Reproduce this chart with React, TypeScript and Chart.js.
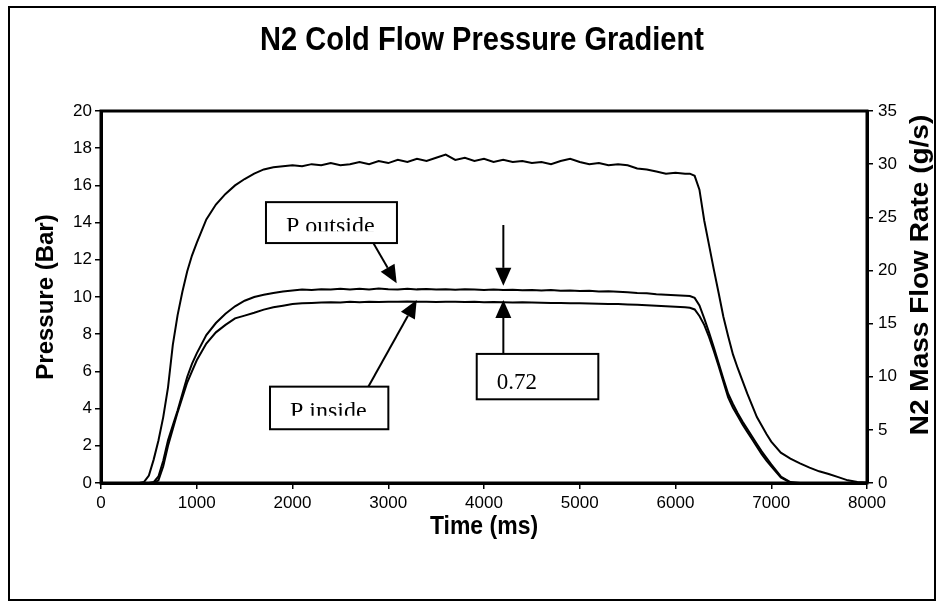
import React, { useEffect, useRef } from 'react';
import { Chart, registerables } from 'chart.js';

Chart.register(...registerables);

// ---- data ----
const TIME_MS = [0,100,200,300,400,450,500,550,600,650,700,750,800,850,900,950,1000,
  1100,1200,1300,1400,1500,1600,1700,1800,1900,2000,
  2100,2200,2300,2400,2500,2600,2700,2800,2900,3000,
  3100,3200,3300,3400,3500,3600,3700,3800,3900,4000,
  4100,4200,4300,4400,4500,4600,4700,4800,4900,5000,
  5100,5200,5300,5400,5500,5600,5700,5800,5900,6000,6100,
  6150,6200,6250,6300,6350,6400,6450,6500,6550,6600,6650,6700,6750,6800,6850,6900,6950,7000,
  7100,7200,7300,7400,7500,7600,7700,7800,7900,8000];

const FLOW_GS = [0,0,0,0,0,0.1,0.7,2.2,4.0,6.2,9.0,13.0,15.8,18.0,19.9,21.4,22.6,
  24.8,26.2,27.2,28.0,28.6,29.1,29.5,29.7,29.8,29.9,
  29.8,30.0,29.9,30.1,29.9,30.0,30.2,30.0,30.3,30.1,
  30.4,30.2,30.5,30.3,30.6,30.9,30.4,30.6,30.3,30.5,
  30.2,30.4,30.2,30.3,30.1,30.2,30.0,30.3,30.5,30.2,
  30.0,30.1,29.9,30.0,29.9,29.6,29.5,29.3,29.1,29.2,29.1,
  29.1,28.9,27.6,24.7,22.4,20.1,17.9,15.65,13.8,12.1,10.8,9.6,8.4,7.3,6.2,5.4,4.6,3.9,
  2.85,2.3,1.85,1.45,1.1,0.85,0.55,0.25,0.1,0.05];

const P_OUTSIDE_BAR = [0,0,0,0,0,0,0,0.05,0.35,1.2,2.3,3.1,3.9,4.8,5.7,6.4,6.97,
  7.95,8.6,9.1,9.5,9.8,10.0,10.12,10.22,10.3,10.35,
  10.4,10.38,10.42,10.4,10.45,10.41,10.44,10.4,10.46,10.42,
  10.4,10.44,10.41,10.43,10.4,10.42,10.39,10.41,10.4,10.38,
  10.4,10.37,10.39,10.36,10.38,10.35,10.37,10.34,10.35,10.32,
  10.33,10.3,10.31,10.28,10.26,10.22,10.2,10.15,10.12,10.1,10.07,
  10.05,9.95,9.55,8.85,8.1,7.3,6.45,5.6,4.8,4.25,3.75,3.3,2.9,2.5,2.1,1.7,1.35,1.0,
  0.35,0.05,0,0,0,0,0,0,0,0];

const P_INSIDE_BAR = [0,0,0,0,0,0,0,0,0.15,0.9,2.0,2.9,3.8,4.6,5.4,6.0,6.6,
  7.5,8.1,8.5,8.85,9.0,9.15,9.32,9.45,9.53,9.62,
  9.66,9.68,9.7,9.72,9.71,9.74,9.72,9.75,9.73,9.75,
  9.74,9.76,9.74,9.75,9.73,9.75,9.74,9.73,9.74,9.72,
  9.73,9.72,9.71,9.72,9.7,9.69,9.68,9.68,9.66,9.67,
  9.65,9.64,9.63,9.62,9.6,9.58,9.56,9.53,9.5,9.48,9.45,
  9.42,9.33,8.98,8.5,7.85,7.1,6.3,5.45,4.6,4.05,3.6,3.15,2.75,2.35,1.95,1.55,1.2,0.9,
  0.3,0.02,0,0,0,0,0,0,0,0];

const TITLE = 'N2 Cold Flow Pressure Gradient';
const X_TITLE = 'Time (ms)';
const Y_TITLE = 'Pressure (Bar)';
const Y2_TITLE = 'N2 Mass Flow Rate (g/s)';

// annotation callouts, in data units (ms, bar)
const LABEL_BOXES = [
  { text: 'P outside', t0: 1723, t1: 3091, p0: 15.1, p1: 12.9, clip: true },
  { text: 'P inside', t0: 1765, t1: 3001, p0: 5.18, p1: 2.89, clip: true },
  { text: '0.72', t0: 3924, t1: 5194, p0: 6.94, p1: 4.5, clip: false },
];
const ARROWS = [
  { t0: 2844, p0: 12.9, t1: 3088, p1: 10.74 },
  { t0: 2792, p0: 5.18, t1: 3297, p1: 9.84 },
  { t0: 4202, p0: 13.87, t1: 4202, p1: 10.6 },
  { t0: 4202, p0: 6.94, t1: 4202, p1: 9.84 },
];

const SANS = '"Liberation Sans", Arial, sans-serif';
const SERIF = '"Liberation Serif", "Times New Roman", serif';

function drawText(ctx: CanvasRenderingContext2D, text: string, cx: number, cy: number, font: string, sx: number, rot: number) {
  ctx.save();
  ctx.translate(cx, cy);
  ctx.scale(sx, 1);
  if (rot) ctx.rotate(rot);
  ctx.font = font;
  ctx.fillStyle = '#000';
  ctx.textAlign = 'center';
  ctx.textBaseline = 'middle';
  ctx.fillText(text, 0, 0);
  ctx.restore();
}

function arrow(ctx: CanvasRenderingContext2D, x0: number, y0: number, x1: number, y1: number) {
  const ang = Math.atan2(y1 - y0, x1 - x0);
  const L = 18, W = 8;
  const bx = x1 - L * Math.cos(ang), by = y1 - L * Math.sin(ang);
  ctx.beginPath();
  ctx.moveTo(x0, y0);
  ctx.lineTo(bx, by);
  ctx.lineWidth = 2;
  ctx.stroke();
  ctx.beginPath();
  ctx.moveTo(x1, y1);
  ctx.lineTo(bx + W * Math.sin(ang), by - W * Math.cos(ang));
  ctx.lineTo(bx - W * Math.sin(ang), by + W * Math.cos(ang));
  ctx.closePath();
  ctx.fill();
}

const decorPlugin = {
  id: 'decor',
  beforeDraw(chart: any) {
    const ctx = chart.ctx as CanvasRenderingContext2D;
    ctx.save();
    ctx.fillStyle = '#fff';
    ctx.fillRect(0, 0, chart.width, chart.height);
    ctx.strokeStyle = '#000';
    ctx.lineWidth = 2;
    ctx.strokeRect(9, 7, 926, 593);
    ctx.restore();
  },
  afterDraw(chart: any) {
    const ctx = chart.ctx as CanvasRenderingContext2D;
    const a = chart.chartArea;
    const xs = chart.scales.x, ys = chart.scales.y;
    ctx.save();
    ctx.strokeStyle = '#000';
    ctx.fillStyle = '#000';
    ctx.lineWidth = 3;
    ctx.strokeRect(a.left, a.top, a.right - a.left, a.bottom - a.top);

    drawText(ctx, TITLE, (a.left + a.right) / 2 - 2, 41, `bold 33px ${SANS}`, 0.88, 0);
    drawText(ctx, X_TITLE, (a.left + a.right) / 2, 527, `bold 25px ${SANS}`, 0.92, 0);
    drawText(ctx, Y_TITLE, 46, (a.top + a.bottom) / 2, `bold 24px ${SANS}`, 1, -Math.PI / 2);
    drawText(ctx, Y2_TITLE, 921, 275, `bold 28px ${SANS}`, 0.92, -Math.PI / 2);

    // callout boxes
    for (const b of LABEL_BOXES) {
      const l = xs.getPixelForValue(b.t0), r = xs.getPixelForValue(b.t1);
      const t = ys.getPixelForValue(b.p0), bt = ys.getPixelForValue(b.p1);
      ctx.fillStyle = '#fff';
      ctx.fillRect(l, t, r - l, bt - t);
      ctx.fillStyle = '#000';
      ctx.lineWidth = 2;
      ctx.strokeRect(l, t, r - l, bt - t);
      ctx.save();
      if (b.clip) {
        ctx.beginPath();
        ctx.rect(l + 2, t + 2, r - l - 4, 27);
        ctx.clip();
        ctx.font = `24px ${SERIF}`;
        ctx.textAlign = 'left';
        ctx.textBaseline = 'alphabetic';
        ctx.fillText(b.text, l + 20, t + 31);
      } else {
        ctx.font = `23px ${SERIF}`;
        ctx.textAlign = 'left';
        ctx.textBaseline = 'alphabetic';
        ctx.fillText(b.text, l + 20, t + 35);
      }
      ctx.restore();
    }
    for (const ar of ARROWS) {
      arrow(ctx, xs.getPixelForValue(ar.t0), ys.getPixelForValue(ar.p0), xs.getPixelForValue(ar.t1), ys.getPixelForValue(ar.p1));
    }
    ctx.restore();
  },
};

export default function App() {
  const ref = useRef<HTMLCanvasElement>(null);
  useEffect(() => {
    const pts = (vals: number[]) => TIME_MS.map((t, i) => ({ x: t, y: vals[i] }));
    const tickFont = { family: SANS, size: 17 };
    const plain = (v: any) => String(v);
    const gridCfg = { display: true, drawOnChartArea: false, drawTicks: true, tickLength: 6, color: '#000', lineWidth: 1.5 };
    const borderCfg = { display: true, color: '#000', width: 3 };
    const chart = new Chart(ref.current as HTMLCanvasElement, {
      type: 'line',
      data: {
        datasets: [
          { label: 'N2 mass flow', data: pts(FLOW_GS), yAxisID: 'y2', borderColor: '#000', borderWidth: 2, pointRadius: 0, tension: 0 },
          { label: 'P outside', data: pts(P_OUTSIDE_BAR), yAxisID: 'y', borderColor: '#000', borderWidth: 2, pointRadius: 0, tension: 0 },
          { label: 'P inside', data: pts(P_INSIDE_BAR), yAxisID: 'y', borderColor: '#000', borderWidth: 2, pointRadius: 0, tension: 0 },
        ],
      },
      options: {
        responsive: false,
        animation: false,
        devicePixelRatio: 1,
        layout: { padding: { left: 41, right: 20, top: 111, bottom: 80 } },
        plugins: { legend: { display: false }, tooltip: { enabled: false }, title: { display: false } },
        scales: {
          x: {
            type: 'linear', min: 0, max: 8000,
            ticks: { stepSize: 1000, color: '#000', font: tickFont, padding: 4, maxRotation: 0, callback: plain },
            grid: gridCfg, border: borderCfg,
            afterFit: (s: any) => { s.height = 40; },
          },
          y: {
            type: 'linear', position: 'left', min: 0, max: 20,
            ticks: { stepSize: 2, color: '#000', font: tickFont, padding: 3, callback: plain },
            grid: gridCfg, border: borderCfg,
            afterFit: (s: any) => { s.width = 60; },
          },
          y2: {
            type: 'linear', position: 'right', min: 0, max: 35,
            ticks: { stepSize: 5, color: '#000', font: tickFont, padding: 5, callback: plain },
            grid: gridCfg, border: borderCfg,
            afterFit: (s: any) => { s.width = 50; },
          },
        },
      },
      plugins: [decorPlugin],
    } as any);
    return () => chart.destroy();
  }, []);
  return (
    <div style={{ position: 'absolute', left: 0, top: 0, width: 937, height: 603, background: '#fff' }}>
      <canvas ref={ref} width={937} height={603} style={{ display: 'block' }} />
    </div>
  );
}
